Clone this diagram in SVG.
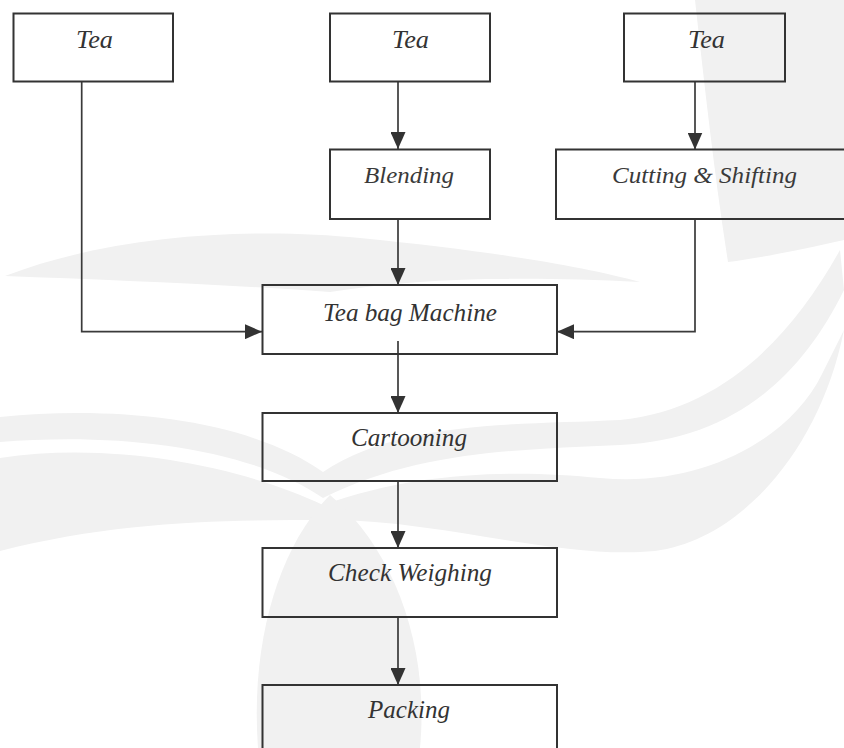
<svg xmlns="http://www.w3.org/2000/svg" width="844" height="748" viewBox="0 0 844 748">
<style>
.box{fill:none;stroke:#333;stroke-width:2}
.lbl{font-family:"Liberation Serif","Times New Roman",serif;font-style:italic;font-size:25px;fill:#333}
.lbl2{font-family:"Liberation Serif","Times New Roman",serif;font-style:italic;font-size:23px;fill:#3a3a3a}
.con{fill:none;stroke:#3a3a3a;stroke-width:1.7}
.wm{fill:#f1f1f1;stroke:none}
</style>
<defs>
<marker id="arr" markerWidth="17" markerHeight="15" refX="17" refY="7.5" orient="auto" markerUnits="userSpaceOnUse">
<path d="M0,0 L17,7.5 L0,15 z" fill="#333"/>
</marker>
</defs>
<rect x="0" y="0" width="844" height="748" fill="#fff"/>
<g id="watermark">
<path class="wm" d="M5,276 C120,232 260,228 360,238 C480,250 580,265 640,282 C520,276 420,278 330,292 C220,284 110,280 5,276 Z"/>
<path class="wm" d="M0,417 C120,405 250,420 323,472 C400,420 520,425 620,420 C720,410 790,340 840,250 L844,290 C800,380 730,440 620,445 C520,450 420,450 323,498 C250,448 120,432 0,442 Z"/>
<path class="wm" d="M0,458 C120,440 250,470 323,505 C420,470 520,470 600,478 C700,488 790,440 822,374 L844,330 C820,450 740,540 655,551 C560,560 440,520 330,520 C230,520 120,520 0,551 Z"/>
<path class="wm" d="M330,495 C280,545 250,640 258,748 L420,748 C430,640 390,545 330,495 Z"/>
<path class="wm" d="M695,0 L844,0 L844,240 C800,250 760,258 728,262 C715,180 705,90 695,0 Z"/>
</g>
<g id="connectors">
<path class="con" d="M81.7,81 V331.7 H262" marker-end="url(#arr)"/>
<path class="con" d="M398,81 V149" marker-end="url(#arr)"/>
<path class="con" d="M695,81 V149.5" marker-end="url(#arr)"/>
<path class="con" d="M398,219 V285" marker-end="url(#arr)"/>
<path class="con" d="M695,219 V331.7 H557" marker-end="url(#arr)"/>
<path class="con" d="M398,341 V413" marker-end="url(#arr)"/>
<path class="con" d="M398,481 V548" marker-end="url(#arr)"/>
<path class="con" d="M398,617 V685" marker-end="url(#arr)"/>
</g>
<g id="tea1"><rect class="box" x="13.5" y="13.5" width="159.5" height="68"/><text class="lbl" x="76" y="47.5" textLength="37" lengthAdjust="spacingAndGlyphs">Tea</text></g>
<g id="tea2"><rect class="box" x="330" y="13.5" width="160" height="68"/><text class="lbl" x="392" y="47.5" textLength="37" lengthAdjust="spacingAndGlyphs">Tea</text></g>
<g id="tea3"><rect class="box" x="624" y="13.5" width="161" height="68"/><text class="lbl" x="688" y="47.5" textLength="37" lengthAdjust="spacingAndGlyphs">Tea</text></g>
<g id="blending"><rect class="box" x="330" y="149.5" width="160" height="69.5"/><text class="lbl2" x="364" y="183" textLength="90" lengthAdjust="spacingAndGlyphs">Blending</text></g>
<g id="cutting"><rect class="box" x="556" y="149.5" width="300" height="69.5"/><text class="lbl2" x="612" y="183" textLength="185" lengthAdjust="spacingAndGlyphs">Cutting &amp; Shifting</text></g>
<g id="teabag"><rect class="box" x="262.5" y="285" width="294.5" height="69"/><text class="lbl" x="323" y="320.5" textLength="174" lengthAdjust="spacingAndGlyphs">Tea bag Machine</text></g>
<g id="cartooning"><rect class="box" x="262.5" y="413" width="294.5" height="68"/><text class="lbl" x="351" y="445.5" textLength="116" lengthAdjust="spacingAndGlyphs">Cartooning</text></g>
<g id="checkweighing"><rect class="box" x="262.5" y="548" width="294.5" height="69"/><text class="lbl" x="328" y="581" textLength="164" lengthAdjust="spacingAndGlyphs">Check Weighing</text></g>
<g id="packing"><rect class="box" x="262.5" y="685" width="294.5" height="80"/><text class="lbl" x="368" y="718" textLength="82" lengthAdjust="spacingAndGlyphs">Packing</text></g>
</svg>
